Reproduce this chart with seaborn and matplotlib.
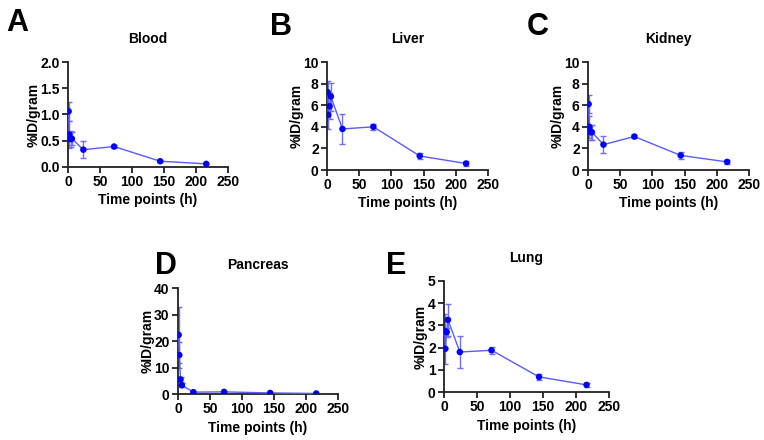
import matplotlib
matplotlib.use("Agg")
import matplotlib.pyplot as plt
import seaborn as sns
import pandas as pd

# ---- data ----
time_h = [1, 2, 4, 6, 24, 72, 144, 216]

blood = [1.06, 0.62, 0.53, 0.54, 0.33, 0.39, 0.11, 0.06]
blood_err = [0.18, 0.25, 0.15, 0.12, 0.16, 0.03, 0.02, 0.01]

liver = [7.2, 5.1, 5.9, 6.8, 3.8, 4.0, 1.3, 0.6]
liver_err = [1.0, 1.3, 1.2, 1.3, 1.35, 0.3, 0.25, 0.2]

kidney = [6.1, 4.0, 3.5, 3.5, 2.35, 3.1, 1.35, 0.75]
kidney_err = [0.8, 1.0, 0.7, 0.7, 0.8, 0.1, 0.35, 0.15]

pancreas = [22.3, 14.7, 5.5, 3.3, 0.7, 0.8, 0.4, 0.2]
pancreas_err = [10.5, 5.0, 1.0, 0.8, 0.3, 0.2, 0.1, 0.1]

lung = [2.75, 1.95, 2.7, 3.25, 1.8, 1.88, 0.68, 0.32]
lung_err = [0.75, 0.7, 0.2, 0.72, 0.72, 0.15, 0.13, 0.1]

sns.set_style("ticks")
plt.rcParams["font.family"] = ["Liberation Sans", "DejaVu Sans"]
plt.rcParams["font.weight"] = "bold"
plt.rcParams["text.color"] = "black"
plt.rcParams["axes.labelcolor"] = "black"
plt.rcParams["xtick.color"] = "black"
plt.rcParams["ytick.color"] = "black"

W, H = 764, 440
fig = plt.figure(figsize=(W / 100, H / 100), dpi=100)


def px_axes(left, right, top, bottom):
    return fig.add_axes([left / W, 1 - bottom / H, (right - left) / W, (bottom - top) / H])


# (letter, title, values, errors, ylim, yticks, box, letter position)
panels = [
    ("A", "Blood", blood, blood_err, 2.0, [0, 0.5, 1.0, 1.5, 2.0], (68, 228, 62, 167), (6, 31)),
    ("B", "Liver", liver, liver_err, 10, [0, 2, 4, 6, 8, 10], (327, 488, 62, 170), (270, 35)),
    ("C", "Kidney", kidney, kidney_err, 10, [0, 2, 4, 6, 8, 10], (588, 749, 62, 170), (527, 35)),
    ("D", "Pancreas", pancreas, pancreas_err, 40, [0, 10, 20, 30, 40], (178, 338, 288, 394), (155, 274)),
    ("E", "Lung", lung, lung_err, 5, [0, 1, 2, 3, 4, 5], (444, 609, 281, 392), (386, 274)),
]

for letter, title, vals, errs, ymax, yticks, box, lpos in panels:
    ax = px_axes(*box)
    df = pd.DataFrame({"time": time_h, "value": vals})
    ax.errorbar(time_h, vals, yerr=errs, fmt="none", ecolor="#6f6fff",
                elinewidth=1, capsize=2.5, capthick=1, zorder=2)
    sns.lineplot(data=df, x="time", y="value", ax=ax, color="#5a5aff",
                 linewidth=1, zorder=3)
    sns.scatterplot(data=df, x="time", y="value", ax=ax, color="#0000ff",
                    s=22, edgecolor="none", zorder=4)
    ax.set_xlim(0, 250)
    ax.set_ylim(0, ymax)
    ax.set_xticks([0, 50, 100, 150, 200, 250])
    ax.set_yticks(yticks)
    if ymax == 2.0:
        ax.set_yticklabels([f"{t:.1f}" for t in yticks])
    ax.tick_params(labelsize=10, width=1.3, length=4, color="#222222", pad=2)
    for lab in ax.get_xticklabels() + ax.get_yticklabels():
        lab.set_fontweight("bold")
    sns.despine(ax=ax)
    for sp in ("left", "bottom"):
        ax.spines[sp].set_linewidth(1.3)
        ax.spines[sp].set_color("#222222")
    ax.set_xlabel("Time points (h)", fontsize=10, fontweight="bold", labelpad=3)
    ax.set_ylabel("%ID/gram", fontsize=10, fontweight="bold", labelpad=0)
    ax.set_title(title, fontsize=10, fontweight="bold", pad=14)
    fig.text(lpos[0] / W, 1 - lpos[1] / H, letter, fontsize=22, fontweight="bold")

fig.savefig("out.png", dpi=100, facecolor="white")
